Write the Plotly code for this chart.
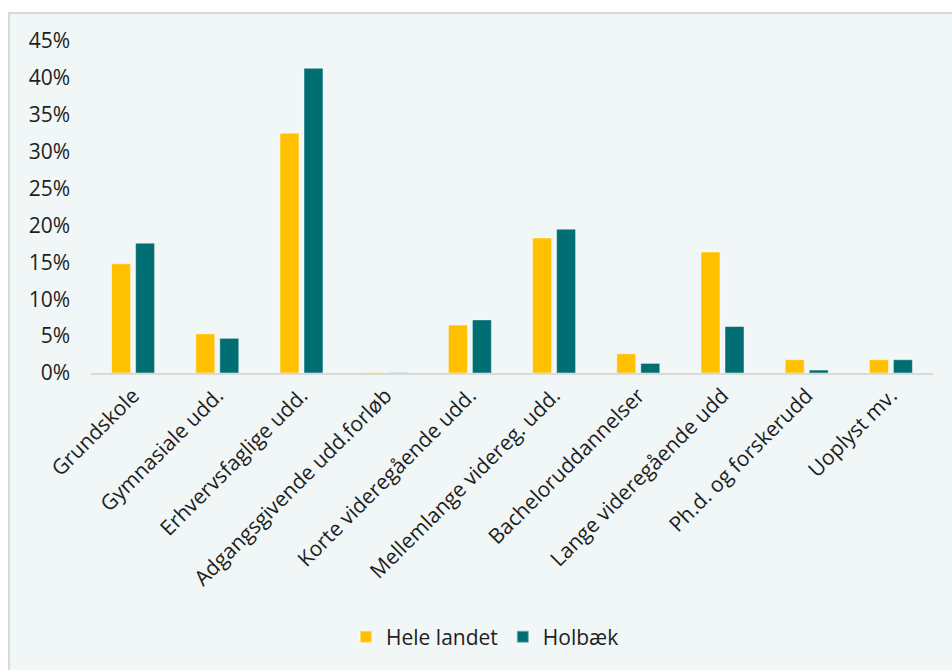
import plotly.graph_objects as go

categories = ["Grundskole", "Gymnasiale udd.", "Erhvervsfaglige udd.", "Adgangsgivende udd.forløb",
              "Korte videregående udd.", "Mellemlange videreg. udd.", "Bacheloruddannelser",
              "Lange videregående udd", "Ph.d. og forskerudd", "Uoplyst mv."]
hele_landet = [0.148, 0.053, 0.325, 0.0006, 0.065, 0.183, 0.026, 0.164, 0.018, 0.018]
holbaek = [0.176, 0.047, 0.413, 0.0004, 0.072, 0.195, 0.013, 0.063, 0.004, 0.018]
y_ticks = [0, 0.05, 0.10, 0.15, 0.20, 0.25, 0.30, 0.35, 0.40, 0.45]

FONT = "Open Sans"
TXT = "#1E1E1E"
BG = "#F1F6F6"
FS = 21

fig = go.Figure()
fig.add_trace(go.Bar(name="Hele landet", x=categories, y=hele_landet,
                     marker=dict(color="#FFC000", line=dict(color="rgba(255,255,255,0.45)", width=1))))
fig.add_trace(go.Bar(name="Holbæk", x=categories, y=holbaek,
                     marker=dict(color="#006E73", line=dict(color="rgba(255,255,255,0.45)", width=1))))

L, R, T, B = 91, 19, 41, 297
W, H = 952, 670
pw = W - L - R
ph = H - T - B

def px_x(p):
    return (p - L) / pw

def px_y(p):
    return (H - B - p) / ph

fig.add_shape(type="rect", xref="paper", yref="paper",
              x0=px_x(9), x1=px_x(W + 20), y0=px_y(H + 20), y1=px_y(13),
              fillcolor=BG, line=dict(color="#D9D9D9", width=2), layer="below")

fig.update_layout(
    width=W, height=H,
    margin=dict(l=L, r=R, t=T, b=B, pad=0),
    paper_bgcolor="white",
    plot_bgcolor="rgba(0,0,0,0)",
    barmode="group",
    bargap=0.43,
    bargroupgap=0.21,
    font=dict(family=FONT, size=FS, color=TXT),
    legend=dict(orientation="h", x=px_x(485), xanchor="center", y=px_y(637), yanchor="middle",
                font=dict(family=FONT, size=FS, color=TXT), bgcolor="rgba(0,0,0,0)",
                itemsizing="constant"),
    xaxis=dict(tickangle=-45, showline=True, linecolor="#D9D9D9", linewidth=2,
               ticks="", showgrid=False, tickfont=dict(family=FONT, size=FS, color=TXT)),
    yaxis=dict(range=[0, 0.45], tickvals=y_ticks, tickformat=".0%", showgrid=False,
               zeroline=False, showline=False, ticks="", ticklabelstandoff=20,
               tickfont=dict(family=FONT, size=FS, color=TXT)),
)

fig.write_html("out.html")
